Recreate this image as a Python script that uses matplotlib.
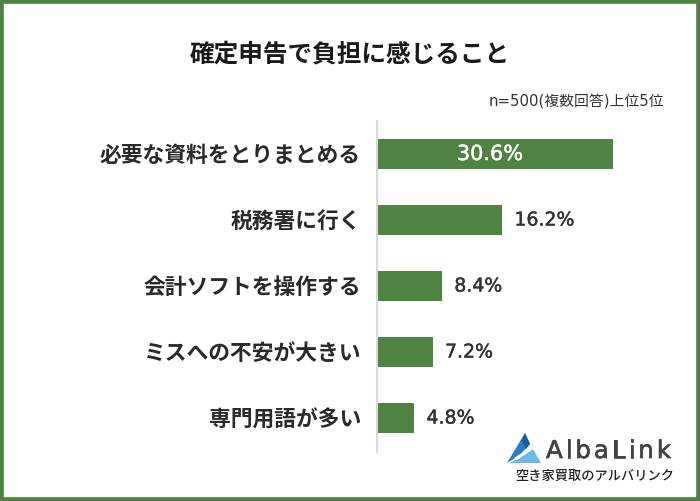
import matplotlib
matplotlib.use('Agg')
import matplotlib.pyplot as plt
import matplotlib.patheffects as pe
from matplotlib.patches import Polygon, Rectangle

plt.rcParams['font.family'] = ['Noto Sans CJK JP', 'DejaVu Sans']
latin_first = ['DejaVu Sans', 'Noto Sans CJK JP']

labels = ['必要な資料をとりまとめる', '税務署に行く', '会計ソフトを操作する', 'ミスへの不安が大きい', '専門用語が多い']
values = [30.6, 16.2, 8.4, 7.2, 4.8]
value_labels = ['30.6%', '16.2%', '8.4%', '7.2%', '4.8%']

green = '#4e8342'
W, H = 700, 501


def poly(points, color):
    # logo pieces, points given in pixels from top left
    fig.add_artist(Polygon([(x / W, 1 - y / H) for x, y in points], transform=fig.transFigure, color=color, lw=0))


fig = plt.figure(figsize=(7, 5.01), dpi=100)
fig.add_artist(Rectangle((0, 0), 1, 1, transform=fig.transFigure, fill=False, ec=green, lw=5.5))

fig.text(350 / W, 1 - 55 / H, '確定申告で負担に感じること', fontsize=17.75, weight='bold', ha='center', va='center', color='#1a1a1a')
fig.text(664 / W, 1 - 102 / H, 'n=500(複数回答)上位5位', fontsize=10.7, ha='right', va='center', color='#333333', family=latin_first)

# axes spans the bar area, x scale from the 30.6 bar width
ax = fig.add_axes([377 / W, 1 - 452 / H, 300 / W, 331 / H])
ax.barh(range(5), values, height=0.4545, color=green)
ax.set_xlim(0, 30.6 * 300 / 236)
ax.set_ylim(4.515, -0.5)
ax.axis('off')
ax.plot([0, 0], [4.515, -0.5], color='#d8d8d8', lw=1.5, clip_on=False)

heavy = [pe.withStroke(linewidth=0.3, foreground='#333333')]
for i, (lab, v, vl) in enumerate(zip(labels, values, value_labels)):
    ax.annotate(lab, (0, i), xytext=(-11.5, -1.2), textcoords='offset points', ha='right', va='center',
                fontsize=15.7, weight='bold', color='#2a2a2a')
    if i == 0:
        ax.annotate(vl, (v / 2, i), xytext=(-3.6, 0), textcoords='offset points', ha='center', va='center',
                    fontsize=15, color='white', family=latin_first,
                    path_effects=[pe.withStroke(linewidth=0.3, foreground='white')])
    else:
        ax.annotate(vl, (v, i), xytext=(9, 0), textcoords='offset points', ha='left', va='center',
                    fontsize=13.6, color='#333333', family=latin_first, path_effects=heavy)

# logo
poly([(507, 463), (525, 433), (530, 444), (519, 456)], '#2a7fc4')
poly([(525, 433), (530, 444), (526, 449), (521, 441)], '#15609f')
poly([(510, 463), (533, 449), (541, 463)], '#6db9e6')
poly([(514, 458), (531, 447), (533, 449), (517, 460)], '#ffffff')

# AlbaLink has wide letter spacing, so place letter by letter
renderer = fig.canvas.get_renderer()
x = 546
for ch in 'AlbaLink':
    t = fig.text(x / W, 1 - 451 / H, ch, fontsize=17.6, ha='left', va='center', color='#444444', family=latin_first,
                 path_effects=[pe.withStroke(linewidth=0.5, foreground='#444444')])
    x += t.get_window_extent(renderer).width + 3

fig.text(515 / W, 1 - 476 / H, '空き家買取のアルバリンク', fontsize=9.5, weight='medium', ha='left', va='center', color='#222222')

fig.savefig('out.png', dpi=100)
